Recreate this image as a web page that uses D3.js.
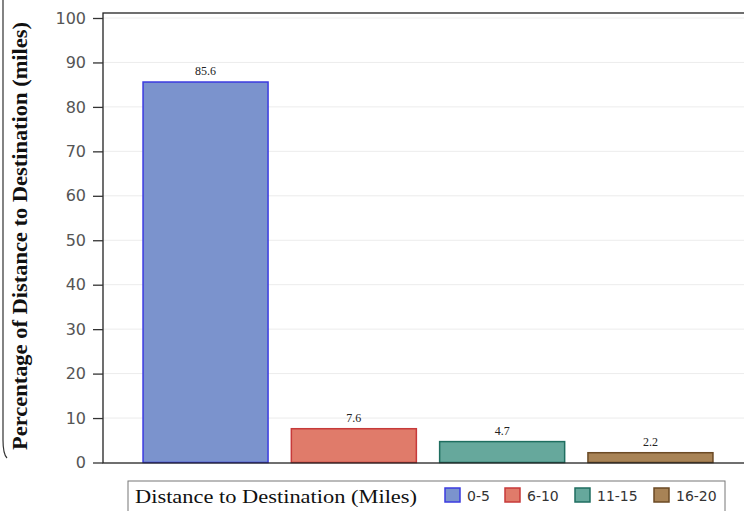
<!DOCTYPE html>
<html><head><meta charset="utf-8">
<script src="https://cdn.jsdelivr.net/npm/d3@7"></script>
<style>body{margin:0;background:#fff;}svg{display:block;}</style>
</head><body>
<svg id="c" width="744" height="511"></svg>
<script>
const categories = ["0-5", "6-10", "11-15", "16-20"];
const values = [85.6, 7.6, 4.7, 2.2];
const valueLabels = ["85.6", "7.6", "4.7", "2.2"];
const yTicks = [0, 10, 20, 30, 40, 50, 60, 70, 80, 90, 100];
const fills = ["#7b93cd", "#e07b6a", "#66a89c", "#a88356"];
const strokes = ["#3b3be0", "#c73a3a", "#1f6e60", "#6b4a25"];
const yTitle = "Percentage of Distance to Destination (miles)";
const legendTitle = "Distance to Destination (Miles)";

const svg = d3.select("#c");
const L = 103, R = 752, T = 13, B = 463;
const y = d3.scaleLinear().domain([0, 100]).range([462.5, 18]);
const x = d3.scaleBand().domain(categories).range([131.4, 724.6]).paddingInner(0.157).paddingOuter(0.0785);

// gridlines
svg.append("g").selectAll("line").data(yTicks.slice(1)).join("line")
  .attr("x1", L).attr("x2", R).attr("y1", d => y(d)).attr("y2", d => y(d))
  .attr("stroke", "#ececec").attr("stroke-width", 1);

// bars
svg.append("g").selectAll("rect").data(values).join("rect")
  .attr("x", (d, i) => x(categories[i]))
  .attr("y", d => y(d))
  .attr("width", x.bandwidth())
  .attr("height", d => y(0) - y(d))
  .attr("fill", (d, i) => fills[i])
  .attr("stroke", (d, i) => strokes[i])
  .attr("stroke-width", 1.5);

// value labels
svg.append("g").selectAll("text").data(values).join("text")
  .attr("x", (d, i) => x(categories[i]) + x.bandwidth() / 2)
  .attr("y", d => y(d) - 7)
  .attr("text-anchor", "middle")
  .attr("font-family", "Liberation Serif, serif")
  .attr("font-size", 12)
  .attr("fill", "#222")
  .text((d, i) => valueLabels[i]);

// frame
svg.append("rect").attr("x", L).attr("y", T).attr("width", R - L).attr("height", B - T)
  .attr("fill", "none").attr("stroke", "#222").attr("stroke-width", 1.3);

// y axis
const yAxis = d3.axisLeft(y).tickValues(yTicks).tickSize(10).tickPadding(7);
const ga = svg.append("g").attr("transform", `translate(${L},0)`).call(yAxis);
ga.select(".domain").remove();
ga.selectAll(".tick line").attr("stroke", "#333").attr("stroke-width", 1.3);
ga.selectAll(".tick text").attr("font-family", "DejaVu Sans, sans-serif").attr("font-size", 16).attr("fill", "#555");

// y title
svg.append("text")
  .attr("transform", `translate(27,236) rotate(-90)`)
  .attr("text-anchor", "middle")
  .attr("font-family", "Liberation Serif, serif")
  .attr("font-weight", "bold")
  .attr("font-size", 20)
  .attr("textLength", 428)
  .attr("lengthAdjust", "spacingAndGlyphs")
  .attr("fill", "#111")
  .text(yTitle);

// scan artifact at left edge
svg.append("path").attr("d", "M3,0 L3,440 Q3,454 7,458").attr("fill", "none").attr("stroke", "#333").attr("stroke-width", 1.2);

// legend
const lg = svg.append("g");
lg.append("rect").attr("x", 128).attr("y", 481).attr("width", 597).attr("height", 40)
  .attr("fill", "#fff").attr("stroke", "#777").attr("stroke-width", 1);
lg.append("text").attr("x", 135).attr("y", 503)
  .attr("font-family", "Liberation Serif, serif").attr("font-size", 19).attr("fill", "#111")
  .attr("textLength", 282).attr("lengthAdjust", "spacingAndGlyphs")
  .text(legendTitle);
const lx = [445, 505, 575, 654];
const items = lg.selectAll("g.item").data(categories).join("g").attr("class", "item")
  .attr("transform", (d, i) => `translate(${lx[i]},488)`);
items.append("rect").attr("width", 15).attr("height", 14)
  .attr("fill", (d, i) => fills[i]).attr("stroke", (d, i) => strokes[i]).attr("stroke-width", 1.5);
items.append("text").attr("x", 22).attr("y", 13)
  .attr("font-family", "DejaVu Sans, sans-serif").attr("font-size", 14).attr("fill", "#333")
  .text(d => d);
</script>
</body></html>
